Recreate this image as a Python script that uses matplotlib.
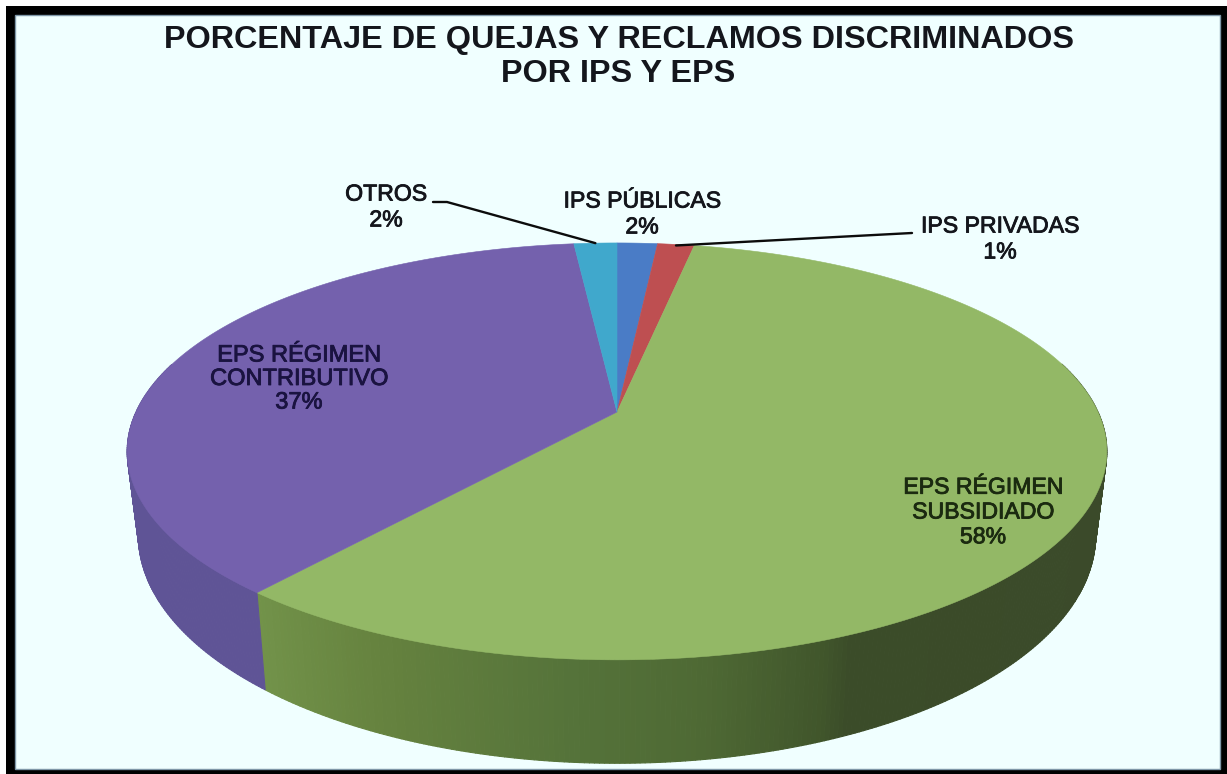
import numpy as np
import matplotlib
matplotlib.use("Agg")
import matplotlib.pyplot as plt
from matplotlib.collections import PolyCollection
from matplotlib.colors import to_rgb
import matplotlib.patheffects as pe

# Shares, clockwise from 12 o'clock (percent, labels show rounded values)
categories = ["IPS PÚBLICAS", "IPS PRIVADAS", "EPS RÉGIMEN\nSUBSIDIADO",
              "EPS RÉGIMEN\nCONTRIBUTIVO", "OTROS"]
values = [1.6, 1.45, 58.0, 37.25, 1.7]
percent_labels = ["2%", "1%", "58%", "37%", "2%"]
top_colors = ["#4A7CC6", "#BE4F51", "#93B866", "#7461AD", "#40A8CC"]
title = "PORCENTAJE DE QUEJAS Y RECLAMOS DISCRIMINADOS\nPOR IPS Y EPS"

W, H = 1227, 774
BG = "#F0FFFF"
plt.rcParams["font.family"] = ["Liberation Sans", "DejaVu Sans"]

fig = plt.figure(figsize=(W / 100, H / 100), dpi=100, facecolor="white")
ax = fig.add_axes([0, 0, 1, 1])
ax.set_xlim(0, W)
ax.set_ylim(H, 0)
ax.axis("off")

# Frame
ax.add_patch(plt.Rectangle((6, 6), W - 6, H - 6, fc="black", ec="none", zorder=0))
ax.add_patch(plt.Rectangle((15, 15), 1205, 754, fc=BG, ec="#7F97A8", lw=1.0, zorder=0.5))


def project(theta, cx, cy, a, b, k):
    """Perspective view of a disc: theta is clockwise from the far side."""
    u, v = np.sin(theta), np.cos(theta)
    d = 1 + k * v
    return cx + a * u / d, cy - b * v / d


TOP = dict(cx=617, cy=412, a=481, b=201, k=0.189)
BOT = dict(cx=617, cy=492, a=470, b=220, k=0.189)

edges = np.deg2rad(np.concatenate([[0], np.cumsum(values)]) * 3.6)


def wall_colour(i, th):
    x = np.sin(th)  # -1 left, +1 right
    if i == 3:  # purple
        return np.array(to_rgb("#5F5496"))
    if i == 2:
        stops_x = [-0.75, -0.42, -0.08, 0.15, 0.36, 0.40, 1.0]
        stops = [to_rgb(c) for c in ["#789A4F", "#66833F", "#55733A", "#4E6934", "#40552B", "#3B4C29", "#3B4A2A"]]
        return np.array([np.interp(x, stops_x, [s[j] for s in stops]) for j in range(3)])
    return np.array(to_rgb(top_colors[i])) * 0.6


# Side wall
polys, cols = [], []
for i in range(len(values)):
    n = max(3, int(np.degrees(edges[i + 1] - edges[i]) / 0.5))
    ts = np.linspace(edges[i], edges[i + 1], n + 1)
    for t0, t1 in zip(ts[:-1], ts[1:]):
        if np.cos((t0 + t1) / 2) > 0.25:
            continue
        x0, y0 = project(t0, **TOP)
        x1, y1 = project(t1, **TOP)
        x2, y2 = project(t1, **BOT)
        x3, y3 = project(t0, **BOT)
        polys.append([(x0, y0), (x1, y1), (x2, y2), (x3, y3)])
        cols.append(wall_colour(i, (t0 + t1) / 2))
ax.add_collection(PolyCollection(polys, facecolors=cols, edgecolors=cols, linewidths=0.8, zorder=2))

# Top face
for i in range(len(values)):
    ts = np.linspace(edges[i], edges[i + 1], 300)
    x, y = project(ts, **TOP)
    ax.fill(np.r_[TOP["cx"], x], np.r_[TOP["cy"], y], fc=top_colors[i],
            ec=top_colors[i], lw=0.4, zorder=3)

# Text
ax.text(618.5, 57, title, ha="center", va="center", fontsize=23.35, fontweight="bold",
        color="#14161C", linespacing=1.16, zorder=6)

label_pos = [(642, 214), (1000, 239), (983, 512), (299, 379), (386, 207)]
label_size = [16.6, 16.6, 16.6, 17.0, 16.6]
label_gap = [1.16, 1.16, 1.1, 1.09, 1.16]
txt_cols = ["#14161C", "#14161C", "#1B2A10", "#1A1340", "#14161C"]
for name, pct, (lx, ly), fs, gap, c in zip(categories, percent_labels, label_pos,
                                           label_size, label_gap, txt_cols):
    ax.text(lx, ly, f"{name}\n{pct}", ha="center", va="center", fontsize=fs,
            color=c, linespacing=gap, zorder=6,
            path_effects=[pe.withStroke(linewidth=0.6, foreground=c)])

# Leader lines
th_otros = (edges[4] + edges[5]) / 2
th_priv = (edges[1] + edges[2]) / 2
xo, yo = project(th_otros, **TOP)
xp, yp = project(th_priv, **TOP)
ax.plot([433, 447, xo], [202, 202, yo], color="#0C0C0C", lw=1.7, zorder=5, solid_capstyle="round")
ax.plot([912, xp], [233, yp + 1], color="#0C0C0C", lw=1.7, zorder=5, solid_capstyle="round")

fig.savefig("out.png", dpi=100, facecolor="white")
